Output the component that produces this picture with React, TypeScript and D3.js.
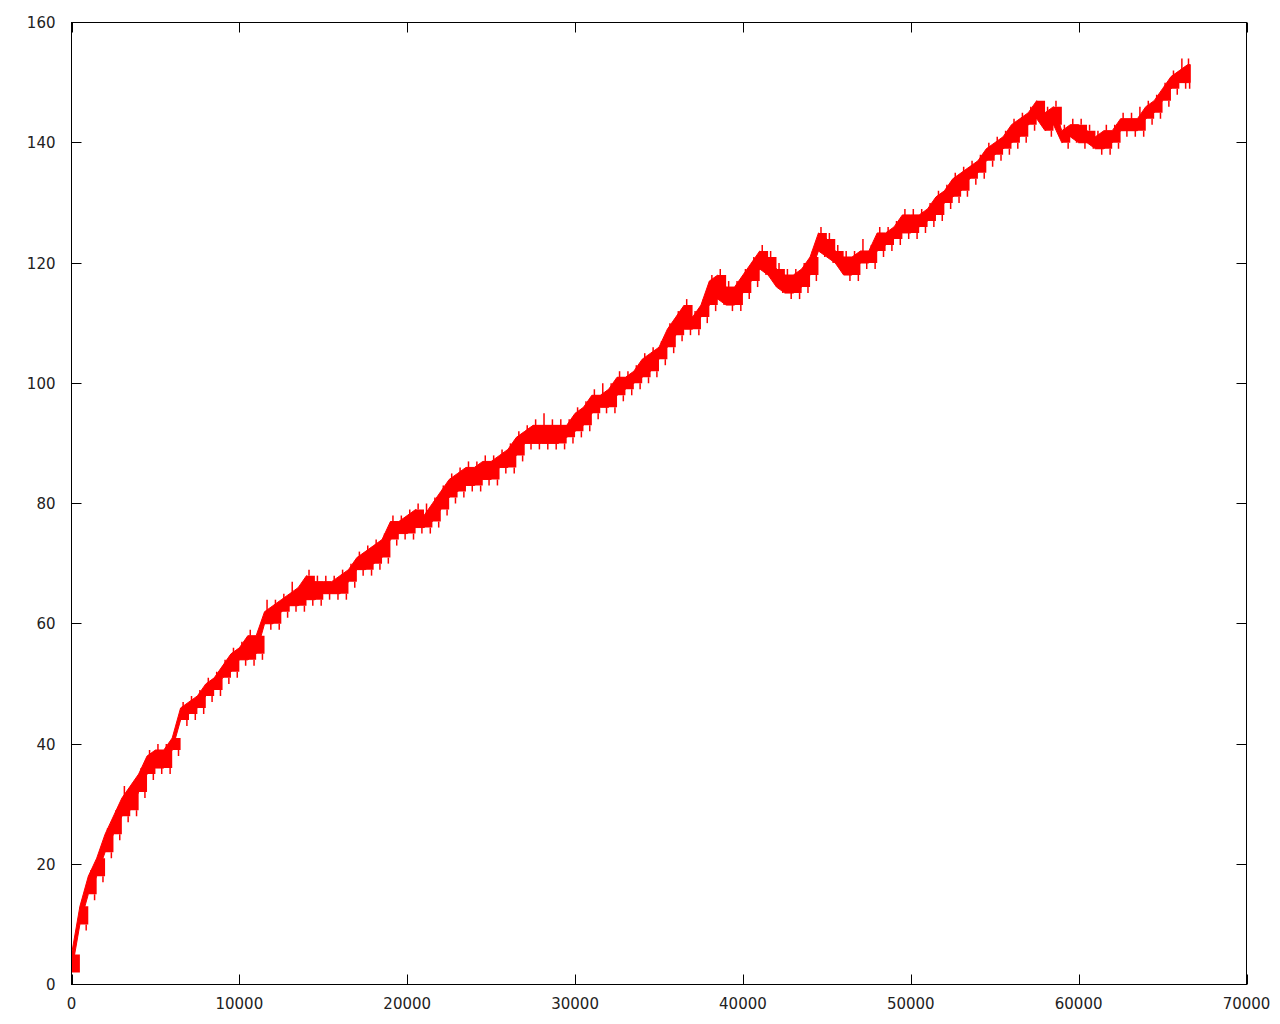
import React from "react";
import * as d3 from "d3";

// sample positions (x) and the envelope of the noisy red trace
const xValues: number[] = [
  0, 500, 1000, 1500, 2000, 2500, 3000, 3500, 4000, 4500, 5000, 5500, 6000, 6500, 7000, 7500, 8000, 8500, 9000, 9500,
  10000, 10500, 11000, 11500, 12000, 12500, 13000, 13500, 14000, 14500, 15000, 15500, 16000, 16500, 17000, 17500, 18000, 18500, 19000, 19500,
  20000, 20500, 21000, 21500, 22000, 22500, 23000, 23500, 24000, 24500, 25000, 25500, 26000, 26500, 27000, 27500, 28000, 28500, 29000, 29500,
  30000, 30500, 31000, 31500, 32000, 32500, 33000, 33500, 34000, 34500, 35000, 35500, 36000, 36500, 37000, 37500, 38000, 38500, 39000, 39500,
  40000, 40500, 41000, 41500, 42000, 42500, 43000, 43500, 44000, 44500, 45000, 45500, 46000, 46500, 47000, 47500, 48000, 48500, 49000, 49500,
  50000, 50500, 51000, 51500, 52000, 52500, 53000, 53500, 54000, 54500, 55000, 55500, 56000, 56500, 57000, 57500, 58000, 58500, 59000, 59500,
  60000, 60500, 61000, 61500, 62000, 62500, 63000, 63500, 64000, 64500, 65000, 65500, 66000, 66500, 66650,
];
// dense body of the trace (low / high)
const lowValues: number[] = [
  2, 10, 15, 18, 22, 25, 28, 29, 32, 35, 36, 36, 39, 44, 45, 46, 48, 49, 51, 52,
  54, 54, 55, 60, 60, 62, 63, 63, 64, 64, 65, 65, 65, 67, 69, 69, 70, 71, 74, 75,
  75, 76, 76, 77, 79, 81, 82, 83, 83, 84, 84, 86, 86, 88, 90, 90, 90, 90, 90, 91,
  92, 93, 95, 96, 96, 98, 99, 100, 101, 102, 104, 106, 108, 109, 109, 111, 113, 114, 113, 113,
  115, 117, 119, 118, 116, 115, 115, 116, 118, 122, 121, 120, 118, 118, 120, 120, 122, 123, 124, 125,
  125, 126, 127, 128, 130, 131, 132, 134, 135, 137, 138, 139, 140, 141, 143, 144, 142, 143, 140, 141,
  140, 140, 139, 139, 140, 142, 142, 142, 144, 145, 147, 149, 150, 150, 150,
];
const highValues: number[] = [
  5, 13, 18, 21, 25, 28, 31, 33, 35, 38, 39, 39, 41, 46, 47, 48, 50, 51, 53, 55,
  56, 58, 58, 62, 63, 64, 65, 66, 68, 67, 67, 67, 68, 69, 71, 72, 73, 74, 77, 77,
  78, 79, 78, 80, 82, 84, 85, 86, 86, 87, 87, 88, 89, 91, 92, 93, 93, 93, 93, 93,
  95, 96, 98, 98, 99, 101, 101, 102, 104, 105, 106, 109, 111, 113, 111, 113, 117, 118, 116, 116,
  118, 120, 122, 121, 119, 118, 118, 119, 121, 125, 124, 122, 121, 121, 122, 122, 125, 125, 126, 128,
  128, 128, 129, 131, 132, 134, 135, 136, 137, 139, 140, 141, 143, 144, 145, 147, 145, 146, 142, 143,
  143, 142, 141, 142, 142, 144, 144, 144, 146, 147, 149, 151, 152, 153, 153,
];
// thin spikes above / below the body
const peakValues: number[] = [
  6, 14, 19, 21, 26, 29, 33, 33, 36, 39, 40, 40, 42, 47, 48, 49, 51, 52, 54, 56,
  57, 59, 59, 64, 64, 65, 67, 66, 69, 68, 68, 68, 69, 70, 72, 73, 74, 75, 78, 78,
  79, 80, 80, 81, 83, 85, 86, 87, 87, 88, 88, 89, 90, 92, 93, 94, 95, 94, 94, 94,
  96, 97, 99, 100, 100, 102, 102, 103, 105, 106, 107, 110, 112, 114, 112, 114, 118, 119, 117, 117,
  119, 121, 123, 122, 120, 119, 119, 120, 122, 126, 125, 123, 122, 122, 124, 123, 126, 126, 127, 129,
  129, 129, 130, 132, 133, 135, 136, 137, 138, 140, 141, 142, 144, 145, 146, 147, 146, 147, 143, 144,
  144, 143, 142, 143, 143, 145, 145, 146, 147, 148, 150, 152, 154, 154, 153,
];
const dipValues: number[] = [
  2, 9, 14, 17, 21, 24, 27, 28, 31, 34, 35, 35, 38, 43, 44, 45, 47, 48, 50, 51,
  53, 53, 54, 59, 59, 61, 62, 62, 63, 63, 64, 64, 64, 66, 68, 68, 69, 70, 73, 74,
  74, 75, 75, 76, 78, 80, 81, 82, 82, 83, 83, 85, 85, 87, 89, 89, 89, 89, 89, 90,
  91, 92, 94, 95, 95, 97, 98, 99, 100, 101, 103, 105, 107, 108, 108, 110, 112, 113, 112, 112,
  114, 116, 118, 117, 115, 114, 114, 115, 117, 121, 120, 119, 117, 117, 119, 119, 121, 122, 123, 124,
  124, 125, 126, 127, 129, 130, 131, 133, 134, 136, 137, 138, 139, 140, 142, 143, 141, 142, 139, 140,
  139, 139, 138, 138, 139, 141, 141, 141, 143, 144, 146, 148, 149, 149, 149,
];

const xTicks: number[] = [0, 10000, 20000, 30000, 40000, 50000, 60000, 70000];
const yTicks: number[] = [0, 20, 40, 60, 80, 100, 120, 140, 160];

type Row = { x: number; lo: number; hi: number; pk: number; dp: number };

export default function App() {
  const W = 1280;
  const H = 1024;
  const left = 71.5;
  const right = 1246.5;
  const top = 22.5;
  const bottom = 984.5;

  const x = d3.scaleLinear().domain([0, 70000]).range([left, right]);
  const y = d3.scaleLinear().domain([0, 160]).range([bottom, top]);

  const rows: Row[] = xValues.map((v, i) => ({
    x: v,
    lo: lowValues[i],
    hi: highValues[i],
    pk: peakValues[i],
    dp: dipValues[i],
  }));

  const ribbon = d3
    .area<Row>()
    .x((d) => x(d.x))
    .y0((d) => y(d.lo))
    .y1((d) => y(d.hi))
    .curve(d3.curveLinear);

  const blocks = d3
    .area<Row>()
    .x((d) => x(d.x))
    .y0((d) => y(d.lo))
    .y1((d) => y(d.hi))
    .curve(d3.curveStepAfter);

  const seg = d3
    .line<[number, number]>()
    .x((d) => d[0])
    .y((d) => d[1]);

  const spikes: string[] = [];
  rows.forEach((r, i) => {
    if (i === rows.length - 1) return;
    const x0 = x(r.x);
    const x1 = x(rows[i + 1].x);
    const w = x1 - x0;
    const xa = x0 + w * 0.3;
    const xb = x0 + w * 0.75;
    spikes.push(seg([[xa, y(r.hi)], [xa, y(r.pk)]]) || "");
    spikes.push(seg([[xb, y(r.lo)], [xb, y(r.dp)]]) || "");
  });

  const tickLen = 10;
  const font = "'DejaVu Sans', sans-serif";

  return (
    <svg
      width={W}
      height={H}
      style={{ position: "absolute", left: 0, top: 0, background: "#fff" }}
    >
      <rect x={0} y={0} width={W} height={H} fill="#fff" />
      <defs>
        <clipPath id="plotclip">
          <rect x={left} y={top} width={right - left} height={bottom - top} />
        </clipPath>
      </defs>

      <g clipPath="url(#plotclip)">
        <path d={ribbon(rows) || ""} fill="#ff0000" stroke="#ff0000" strokeWidth={1} />
        <path d={blocks(rows.slice(0, rows.length - 1)) || ""} fill="#ff0000" stroke="none" />
        {spikes.map((d, i) => (
          <path key={i} d={d} stroke="#ff0000" strokeWidth={1.5} fill="none" />
        ))}
      </g>

      {/* ticks: inward on all four sides */}
      <g stroke="#000" strokeWidth={1}>
        {xTicks.map((t) => (
          <g key={"xt" + t}>
            <line x1={Math.round(x(t)) + 0.5} x2={Math.round(x(t)) + 0.5} y1={bottom} y2={bottom - tickLen} />
            <line x1={Math.round(x(t)) + 0.5} x2={Math.round(x(t)) + 0.5} y1={top} y2={top + tickLen} />
          </g>
        ))}
        {yTicks.map((t) => (
          <g key={"yt" + t}>
            <line x1={left} x2={left + tickLen} y1={Math.round(y(t) - 0.5) + 0.5} y2={Math.round(y(t) - 0.5) + 0.5} />
            <line x1={right} x2={right - tickLen} y1={Math.round(y(t) - 0.5) + 0.5} y2={Math.round(y(t) - 0.5) + 0.5} />
          </g>
        ))}
      </g>

      <rect
        x={left}
        y={top}
        width={right - left}
        height={bottom - top}
        fill="none"
        stroke="#000"
        strokeWidth={1}
      />

      <g fontFamily={font} fontSize={15} fill="#222">
        {xTicks.map((t) => (
          <text key={"xl" + t} x={x(t)} y={1008.5} textAnchor="middle">
            {t}
          </text>
        ))}
        {yTicks.map((t) => (
          <text key={"yl" + t} x={55.5} y={y(t) + 5.5} textAnchor="end">
            {t}
          </text>
        ))}
      </g>
    </svg>
  );
}
